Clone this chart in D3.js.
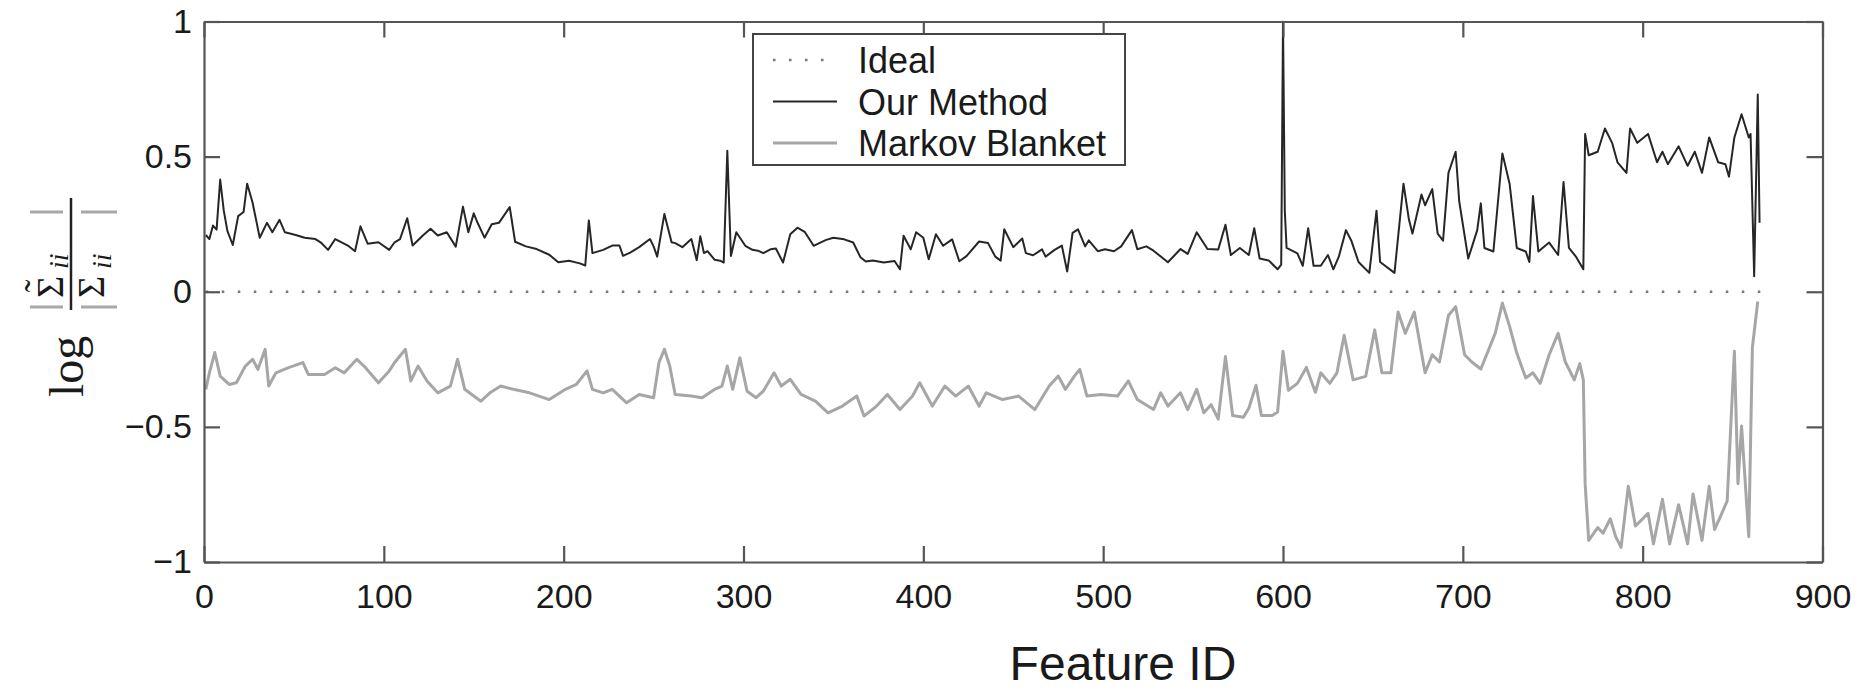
<!DOCTYPE html>
<html>
<head>
<meta charset="utf-8">
<script src="https://cdn.jsdelivr.net/npm/d3@7/dist/d3.min.js"></script>
<style>
  html, body { margin: 0; padding: 0; background: #fff; }
  svg { display: block; }
</style>
</head>
<body>
<svg id="chart" width="1858" height="696"></svg>
<script>
// ---------------- data ----------------
const xTicks = [0, 100, 200, 300, 400, 500, 600, 700, 800, 900];
const yTicks = [-1, -0.5, 0, 0.5, 1];
const yTickLabels = ["\u22121", "\u22120.5", "0", "0.5", "1"];

const idealIds = [1, 866];
const idealVals = [0, 0];

const ourIds = [1,3,5,7,9,11,13,16,19,22,24,27,31,35,38,42,45,51,56,62,65,69,73,80,84,87,91,97,103,106,109,113,116,122,126,130,135,140,144,147,150,152,156,160,164,170,173,179,185,192,197,203,209,212,214,216,222,227,231,
233,237,242,248,250,252,256,260,262,266,271,274,276,278,280,284,287,289,291,293,296,301,305,308,311,315,318,322,326,330,334,339,343,346,350,356,361,365,368,372,378,384,387,389,393,396,400,403,407,411,416,420,424,431,436,440,443,445,450,455,457,461,466,468,473,477,480,483,486,490,492,497,501,506,510,516,519,524,528,536,543,547,552,558,564,
568,571,576,581,584,587,592,597,599,600,601,602,608,611,614,617,621,625,628,631,635,638,642,648,652,654,662,667,670,672,677,679,683,686,689,692,696,698,703,708,710,712,717,722,726,730,735,737,739,742,748,753,756,759,763,767,768,770,775,779,783,786,791,793,797,803,808,811,814,820,825,829,833,837,842,846,848,851,855,859,860,862,864,865];
const ourVals = [0.21,0.195,0.245,0.23,0.415,0.3,0.225,0.173,0.28,0.295,0.40,0.33,0.20,0.255,0.22,0.266,0.22,0.21,0.2,0.195,0.182,0.155,0.195,0.171,0.15,0.242,0.178,0.183,0.155,0.183,0.195,0.272,0.171,0.21,0.233,0.208,0.22,0.167,0.315,0.22,0.29,0.257,0.2,0.25,0.255,0.313,0.185,0.168,0.158,0.137,0.109,0.115,0.105,0.097,0.264,0.143,0.155,0.171,0.171,
0.133,0.145,0.165,0.195,0.168,0.13,0.288,0.183,0.18,0.165,0.195,0.117,0.205,0.143,0.15,0.118,0.115,0.108,0.522,0.132,0.22,0.17,0.155,0.152,0.143,0.157,0.16,0.108,0.213,0.237,0.222,0.17,0.183,0.192,0.2,0.194,0.182,0.128,0.112,0.116,0.108,0.114,0.083,0.207,0.157,0.22,0.2,0.12,0.213,0.17,0.194,0.113,0.132,0.186,0.18,0.13,0.115,0.231,0.165,0.197,0.143,0.135,0.157,0.13,0.155,0.171,0.075,0.218,0.231,0.168,0.19,0.15,0.157,0.15,0.168,0.228,0.157,0.168,0.152,0.109,0.158,0.14,0.22,0.158,0.156,
0.248,0.136,0.162,0.136,0.235,0.123,0.116,0.083,0.10,1.0,0.30,0.162,0.142,0.096,0.235,0.096,0.096,0.136,0.083,0.129,0.228,0.189,0.11,0.07,0.30,0.11,0.07,0.40,0.268,0.215,0.36,0.32,0.38,0.215,0.189,0.44,0.518,0.334,0.123,0.228,0.327,0.162,0.149,0.512,0.40,0.162,0.149,0.11,0.354,0.149,0.182,0.136,0.406,0.162,0.129,0.083,0.584,0.505,0.518,0.604,0.551,0.479,0.44,0.604,0.551,0.584,0.479,0.518,0.472,0.538,0.466,0.518,0.44,0.571,0.479,0.472,0.426,0.571,0.657,0.571,0.584,0.057,0.73,0.255];

const mbIds = [1,3,6,9,14,18,23,27,30,34,36,40,47,55,58,67,73,78,85,89,97,103,106,112,115,119,124,130,137,141,145,150,154,159,165,172,181,192,201,207,213,216,222,227,
235,242,250,253,256,259,262,271,277,284,288,291,294,298,302,307,311,317,321,326,332,340,347,355,363,367,374,380,387,394,398,405,412,418,425,431,435,444,453,462,470,475,479,484,487,491,499,508,514,519,528,532,536,543,547,552,556,
560,564,568,572,578,581,585,588,594,597,600,603,608,613,618,621,626,630,634,639,646,651,655,660,664,668,673,679,683,687,692,696,701,705,710,714,718,722,726,730,735,739,743,748,753,757,762,765,767,768,770,775,778,782,785,788,792,796,803,806,811,815,820,825,828,833,837,840,844,847,851,853,855,859,861,864];
const mbVals = [-0.361,-0.30,-0.225,-0.312,-0.343,-0.337,-0.275,-0.25,-0.287,-0.213,-0.349,-0.30,-0.281,-0.262,-0.306,-0.306,-0.281,-0.30,-0.25,-0.275,-0.337,-0.293,-0.262,-0.213,-0.33,-0.275,-0.33,-0.374,-0.349,-0.25,-0.361,-0.386,-0.405,-0.374,-0.349,-0.361,-0.374,-0.399,-0.361,-0.343,-0.293,-0.361,-0.374,-0.361,
-0.411,-0.38,-0.392,-0.262,-0.213,-0.275,-0.38,-0.386,-0.392,-0.361,-0.349,-0.275,-0.361,-0.244,-0.368,-0.392,-0.368,-0.30,-0.349,-0.324,-0.38,-0.405,-0.448,-0.423,-0.386,-0.46,-0.423,-0.38,-0.436,-0.386,-0.337,-0.423,-0.349,-0.386,-0.349,-0.423,-0.374,-0.399,-0.386,-0.436,-0.349,-0.312,-0.361,-0.312,-0.287,-0.386,-0.38,-0.386,-0.33,-0.399,-0.436,-0.374,-0.423,-0.374,-0.436,-0.361,-0.448,
-0.418,-0.471,-0.24,-0.458,-0.464,-0.431,-0.346,-0.458,-0.458,-0.445,-0.22,-0.365,-0.339,-0.28,-0.372,-0.30,-0.339,-0.30,-0.161,-0.326,-0.313,-0.141,-0.30,-0.30,-0.075,-0.154,-0.075,-0.30,-0.233,-0.26,-0.088,-0.055,-0.233,-0.26,-0.286,-0.22,-0.154,-0.042,-0.128,-0.227,-0.319,-0.30,-0.339,-0.233,-0.154,-0.26,-0.326,-0.266,-0.326,-0.71,-0.92,-0.873,-0.893,-0.84,-0.906,-0.946,-0.72,-0.867,-0.82,-0.933,-0.768,-0.933,-0.788,-0.933,-0.748,-0.92,-0.72,-0.88,-0.82,-0.774,-0.22,-0.71,-0.497,-0.906,-0.207,-0.036];

const seriesNames = ["Ideal", "Our Method", "Markov Blanket"];

// ---------------- layout ----------------
const svg = d3.select("#chart");
const W = 1858, H = 696;
const plot = { left: 204, right: 1822.5, top: 21.5, bottom: 562 };
const axisColor = "#555";
const fontSans = "'Liberation Sans', Arial, Helvetica, sans-serif";
const fontSerif = "'Liberation Serif', 'Times New Roman', serif";

svg.append("rect").attr("width", W).attr("height", H).attr("fill", "#fff");

const x = d3.scaleLinear().domain([0, 900]).range([plot.left, plot.right]);
const y = d3.scaleLinear().domain([-1, 1]).range([plot.bottom, plot.top]);

svg.append("clipPath").attr("id", "clip")
  .append("rect")
  .attr("x", plot.left).attr("y", plot.top - 1)
  .attr("width", plot.right - plot.left).attr("height", plot.bottom - plot.top + 2);

const g = svg.append("g").attr("clip-path", "url(#clip)");

const line = d3.line().x(d => x(d[0])).y(d => y(d[1]));
const zip = (a, b) => a.map((v, i) => [v, b[i]]);

// Ideal dotted line
g.append("path")
  .datum(zip(idealIds, idealVals))
  .attr("d", line)
  .attr("fill", "none")
  .attr("stroke", "#777")
  .attr("stroke-width", 2.5)
  .attr("stroke-dasharray", "2.5,13.5");

// Markov Blanket
g.append("path")
  .datum(zip(mbIds, mbVals))
  .attr("d", line)
  .attr("fill", "none")
  .attr("stroke", "#a6a6a6")
  .attr("stroke-width", 3)
  .attr("stroke-linejoin", "round");

// Our Method
g.append("path")
  .datum(zip(ourIds, ourVals))
  .attr("d", line)
  .attr("fill", "none")
  .attr("stroke", "#262626")
  .attr("stroke-width", 2)
  .attr("stroke-linejoin", "round");

// ---------------- axes ----------------
const tickLen = 16;
function styleAxis(sel) {
  sel.selectAll("path.domain").attr("stroke", axisColor).attr("stroke-width", 2.2);
  sel.selectAll(".tick line").attr("stroke", axisColor).attr("stroke-width", 2.2);
  sel.selectAll(".tick text")
    .attr("fill", "#1a1a1a")
    .style("font-family", fontSans)
    .style("font-size", "34px");
}

const gx = svg.append("g").attr("transform", `translate(0,${plot.bottom})`)
  .call(d3.axisBottom(x).tickValues(xTicks).tickSizeInner(-tickLen).tickSizeOuter(0).tickPadding(22).tickFormat(d3.format("d")));
styleAxis(gx);

const gxt = svg.append("g").attr("transform", `translate(0,${plot.top})`)
  .call(d3.axisTop(x).tickValues(xTicks).tickSizeInner(-tickLen).tickSizeOuter(0).tickFormat(""));
styleAxis(gxt);

const gy = svg.append("g").attr("transform", `translate(${plot.left},0)`)
  .call(d3.axisLeft(y).tickValues(yTicks).tickSizeInner(-tickLen).tickSizeOuter(0).tickPadding(12)
    .tickFormat((d, i) => yTickLabels[i]));
styleAxis(gy);

const gyr = svg.append("g").attr("transform", `translate(${plot.right},0)`)
  .call(d3.axisRight(y).tickValues(yTicks).tickSizeInner(-tickLen).tickSizeOuter(0).tickFormat(""));
styleAxis(gyr);

// ---------------- x label ----------------
svg.append("text")
  .attr("x", 1123).attr("y", 680)
  .attr("text-anchor", "middle")
  .style("font-family", fontSans)
  .style("font-size", "48px")
  .attr("fill", "#1a1a1a")
  .text("Feature ID");

// ---------------- y label (rotated math) ----------------
const yl = svg.append("g").attr("transform", "translate(71,255) rotate(-90)");
yl.append("text").attr("x", -142).attr("y", 12)
  .style("font-family", fontSerif).style("font-size", "48px").attr("fill", "#1a1a1a").text("log");
yl.append("line").attr("x1", -55).attr("x2", 57).attr("y1", 0).attr("y2", 0)
  .attr("stroke", "#222").attr("stroke-width", 2.5);
// numerator |Σ̃_ii|
yl.append("text").attr("x", -43).attr("y", -8)
  .style("font-family", fontSerif).style("font-size", "38px").attr("fill", "#1a1a1a").text("\u03A3");
yl.append("text").attr("x", -31).attr("y", -20).attr("text-anchor", "middle")
  .style("font-family", fontSerif).style("font-size", "38px").attr("fill", "#1a1a1a").text("\u02DC");
yl.append("text").attr("x", -14).attr("y", -3)
  .style("font-family", fontSerif).style("font-size", "28px").style("font-style", "italic").attr("fill", "#1a1a1a").text("ii");
// denominator |Σ_ii|
yl.append("text").attr("x", -43).attr("y", 33)
  .style("font-family", fontSerif).style("font-size", "38px").attr("fill", "#1a1a1a").text("\u03A3");
yl.append("text").attr("x", -14).attr("y", 40)
  .style("font-family", fontSerif).style("font-size", "28px").style("font-style", "italic").attr("fill", "#1a1a1a").text("ii");
// absolute value bars
[[-41, -8], [10, 46]].forEach(([v1, v2]) => {
  [-52, 43].forEach(u => {
    yl.append("line").attr("x1", u).attr("x2", u).attr("y1", v1).attr("y2", v2)
      .attr("stroke", "#a8a8a8").attr("stroke-width", 3);
  });
});

// ---------------- legend ----------------
const lg = svg.append("g");
lg.append("rect").attr("x", 753).attr("y", 34).attr("width", 372).attr("height", 131)
  .attr("fill", "#fff").attr("stroke", "#444").attr("stroke-width", 2);
const legendStyles = [
  { stroke: "#777", width: 2.5, dash: "2.5,13.5" },
  { stroke: "#262626", width: 2, dash: null },
  { stroke: "#a6a6a6", width: 3, dash: null }
];
seriesNames.forEach((name, i) => {
  const cy = 60 + i * 41.5;
  const s = legendStyles[i];
  const ln = lg.append("line").attr("x1", 773).attr("x2", 837).attr("y1", cy).attr("y2", cy)
    .attr("stroke", s.stroke).attr("stroke-width", s.width);
  if (s.dash) ln.attr("stroke-dasharray", s.dash);
  lg.append("text").attr("x", 858).attr("y", cy + 13)
    .style("font-family", fontSans).style("font-size", "36px").attr("fill", "#1a1a1a").text(name);
});
</script>
</body>
</html>
